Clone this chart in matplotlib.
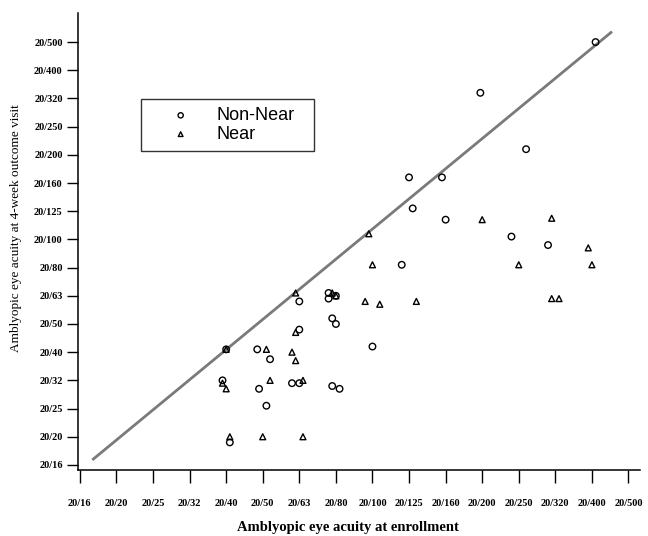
import matplotlib.pyplot as plt
import numpy as np

# Snellen levels on both axes (logMAR -0.1 .. 1.4)
denoms = [16, 20, 25, 32, 40, 50, 63, 80, 100, 125, 160, 200, 250, 320, 400, 500]
tick_labels = ["20/%d" % d for d in denoms]
tick_logmar = [-0.1 + 0.1 * i for i in range(len(denoms))]

# Non-Near group (logMAR), enrollment vs 4-week outcome
nonnear_x = [1.31, 0.995, 1.12, 0.80, 0.89, 0.81, 0.90, 1.08, 1.18, 0.78,
             0.58, 0.58, 0.60, 0.50, 0.59, 0.60, 0.50, 0.70, 0.385, 0.42,
             0.29, 0.39, 0.48, 0.50, 0.59, 0.61, 0.41, 0.31, 0.30]
nonnear_y = [1.40, 1.22, 1.02, 0.92, 0.92, 0.81, 0.77, 0.71, 0.68, 0.61,
             0.51, 0.49, 0.50, 0.48, 0.42, 0.40, 0.38, 0.32, 0.31, 0.275,
             0.20, 0.17, 0.19, 0.19, 0.18, 0.17, 0.11, -0.02, 0.31]

# Near group (logMAR)
near_x = [0.30, 0.49, 0.60, 0.59, 0.49, 0.41, 0.48, 0.49, 0.29, 0.30,
          0.42, 0.51, 0.31, 0.40, 0.51, 0.68, 0.72, 0.82, 0.69, 0.70,
          1.00, 1.19, 1.10, 1.29, 1.30, 1.19, 1.21]
near_y = [0.31, 0.51, 0.50, 0.51, 0.37, 0.31, 0.30, 0.27, 0.19, 0.17,
          0.20, 0.20, 0.00, 0.00, 0.00, 0.48, 0.47, 0.48, 0.72, 0.61,
          0.77, 0.775, 0.61, 0.67, 0.61, 0.49, 0.49]

# no-change reference line (end points)
line_x = [-0.063, 1.352]
line_y = [-0.079, 1.434]

fig = plt.figure(figsize=(6.48, 5.36), dpi=100)
ax = fig.add_axes([0.1204, 0.1231, 0.867, 0.8526])

ax.plot(line_x, line_y, color="#7a7a7a", lw=2, zorder=1)

ax.scatter(nonnear_x, nonnear_y, s=22, marker="o", facecolors="none",
           edgecolors="black", linewidths=1.0, label="Non-Near", zorder=3)
ax.scatter(near_x, near_y, s=18, marker="^", facecolors="none",
           edgecolors="black", linewidths=1.0, label="Near", zorder=3)

ax.set_xlim(-0.105, 1.431)
ax.set_ylim(-0.118, 1.503)

ax.set_xticks(tick_logmar)
ax.set_xticklabels(tick_labels, family="Liberation Serif", weight="bold", fontsize=7.5)
ax.set_yticks(tick_logmar)
ax.set_yticklabels(tick_labels, family="Liberation Serif", weight="bold", fontsize=7.5)
ax.tick_params(axis="x", direction="out", length=9, width=1, pad=12)
ax.tick_params(axis="y", direction="out", length=8, width=1, pad=3)

for s in ["top", "right"]:
    ax.spines[s].set_visible(False)
for s in ["left", "bottom"]:
    ax.spines[s].set_linewidth(1.1)

ax.set_xlabel("Amblyopic eye acuity at enrollment", family="Liberation Serif",
              weight="bold", fontsize=10.5)
ax.set_ylabel("Amblyopic eye acuity at 4-week outcome visit", family="Liberation Serif",
              fontsize=9.5)
ax.yaxis.set_label_coords(-0.1, 0.53)
ax.xaxis.set_label_coords(0.48, -0.112)

#legend box stretched to the width seen in the figure
leg = ax.legend(loc="upper left", bbox_to_anchor=(0.112, 0.712, 0.308, 0.1),
                mode="expand", borderaxespad=0,
                frameon=True, fancybox=False, edgecolor="black", markerscale=0.8,
                handlelength=3.5, handletextpad=0.25, borderpad=0.45, labelspacing=0.1,
                prop={"family": "Liberation Sans", "size": 13})
leg.get_frame().set_linewidth(1.0)

plt.savefig("out.png", dpi=100)
